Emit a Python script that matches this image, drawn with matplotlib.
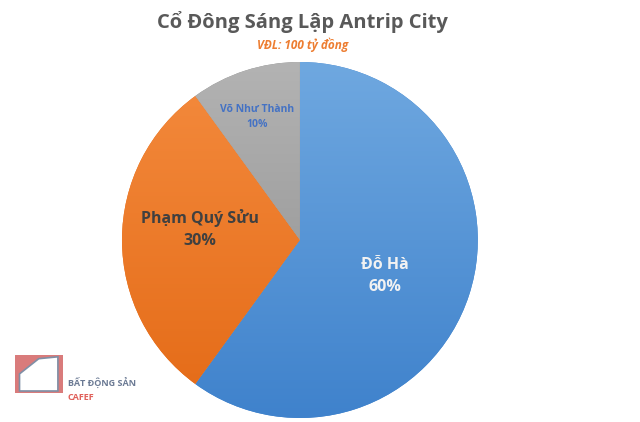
import matplotlib.pyplot as plt
import numpy as np
from matplotlib.colors import LinearSegmentedColormap
from matplotlib.patches import Rectangle, Polygon

# Dữ liệu
co_dong = ['Đỗ Hà', 'Phạm Quý Sửu', 'Võ Như Thành']
ty_le = [60, 30, 10]
mau_tren = ['#6fa8e0', '#f48b3e', '#b3b3b3']
mau_duoi = ['#3f82cc', '#e46a16', '#8c8c8c']
mau_chu = ['#f2f2f2', '#404040', '#4472c4']
co_chu = [11.5, 11.5, 7.5]

plt.rcParams['font.family'] = ['Open Sans', 'DejaVu Sans']

fig = plt.figure(figsize=(6.4, 4.22), dpi=100)
ax = fig.add_axes([0.1906, 0.0095, 0.556, 0.8436])

wedges, _ = ax.pie(ty_le, startangle=90, counterclock=False, radius=1,
                   colors=mau_duoi, wedgeprops=dict(linewidth=0))
ax.set_xlim(-1, 1)
ax.set_ylim(-1, 1)
ax.set_aspect('equal')

# To mau chuyen sac cho tung mieng
grad = np.linspace(0, 1, 256).reshape(-1, 1)
for w, c1, c2 in zip(wedges, mau_tren, mau_duoi):
    cmap = LinearSegmentedColormap.from_list('g', [c1, c2])
    im = ax.imshow(grad, cmap=cmap, extent=[-1, 1, -1, 1], origin='upper',
                   aspect='auto', zorder=w.get_zorder() + 0.1)
    im.set_clip_path(w)

# Nhan
vi_tri = [(0.48, -0.2), (-0.56, 0.06), (-0.24, 0.69)]
for ten, pt, (x, y), c, s in zip(co_dong, ty_le, vi_tri, mau_chu, co_chu):
    ax.text(x, y, f'{ten}\n{pt}%', ha='center', va='center', color=c,
            fontsize=s, fontweight='bold', linespacing=1.5, zorder=5)
ax.axis('off')

fig.text(0.472, 0.948, 'Cổ Đông Sáng Lập Antrip City', ha='center', va='center',
         fontsize=14.5, fontweight='bold', color='#595959')
fig.text(0.473, 0.893, 'VĐL: 100 tỷ đồng', ha='center', va='center',
         fontsize=8.5, fontweight='bold', style='italic', color='#ed7d31')

# Logo
lax = fig.add_axes([0.023, 0.069, 0.075, 0.09])
lax.add_patch(Rectangle((0, 0), 1, 1, color='#d97b7b'))
lax.add_patch(Polygon([(0.1, 0.05), (0.9, 0.05), (0.9, 0.95), (0.5, 0.9), (0.1, 0.5)],
                      facecolor='white', edgecolor='#7f8fa6', linewidth=1.2))
lax.set_xlim(0, 1)
lax.set_ylim(0, 1)
lax.axis('off')
fig.text(0.106, 0.092, 'BẤT ĐỘNG SẢN', fontsize=6.5, fontweight='bold',
         color='#6b7a94', va='center')
fig.text(0.106, 0.058, 'CAFEF', fontsize=6.5, fontweight='bold',
         color='#e0605a', va='center')

fig.savefig('out.png', dpi=100)
